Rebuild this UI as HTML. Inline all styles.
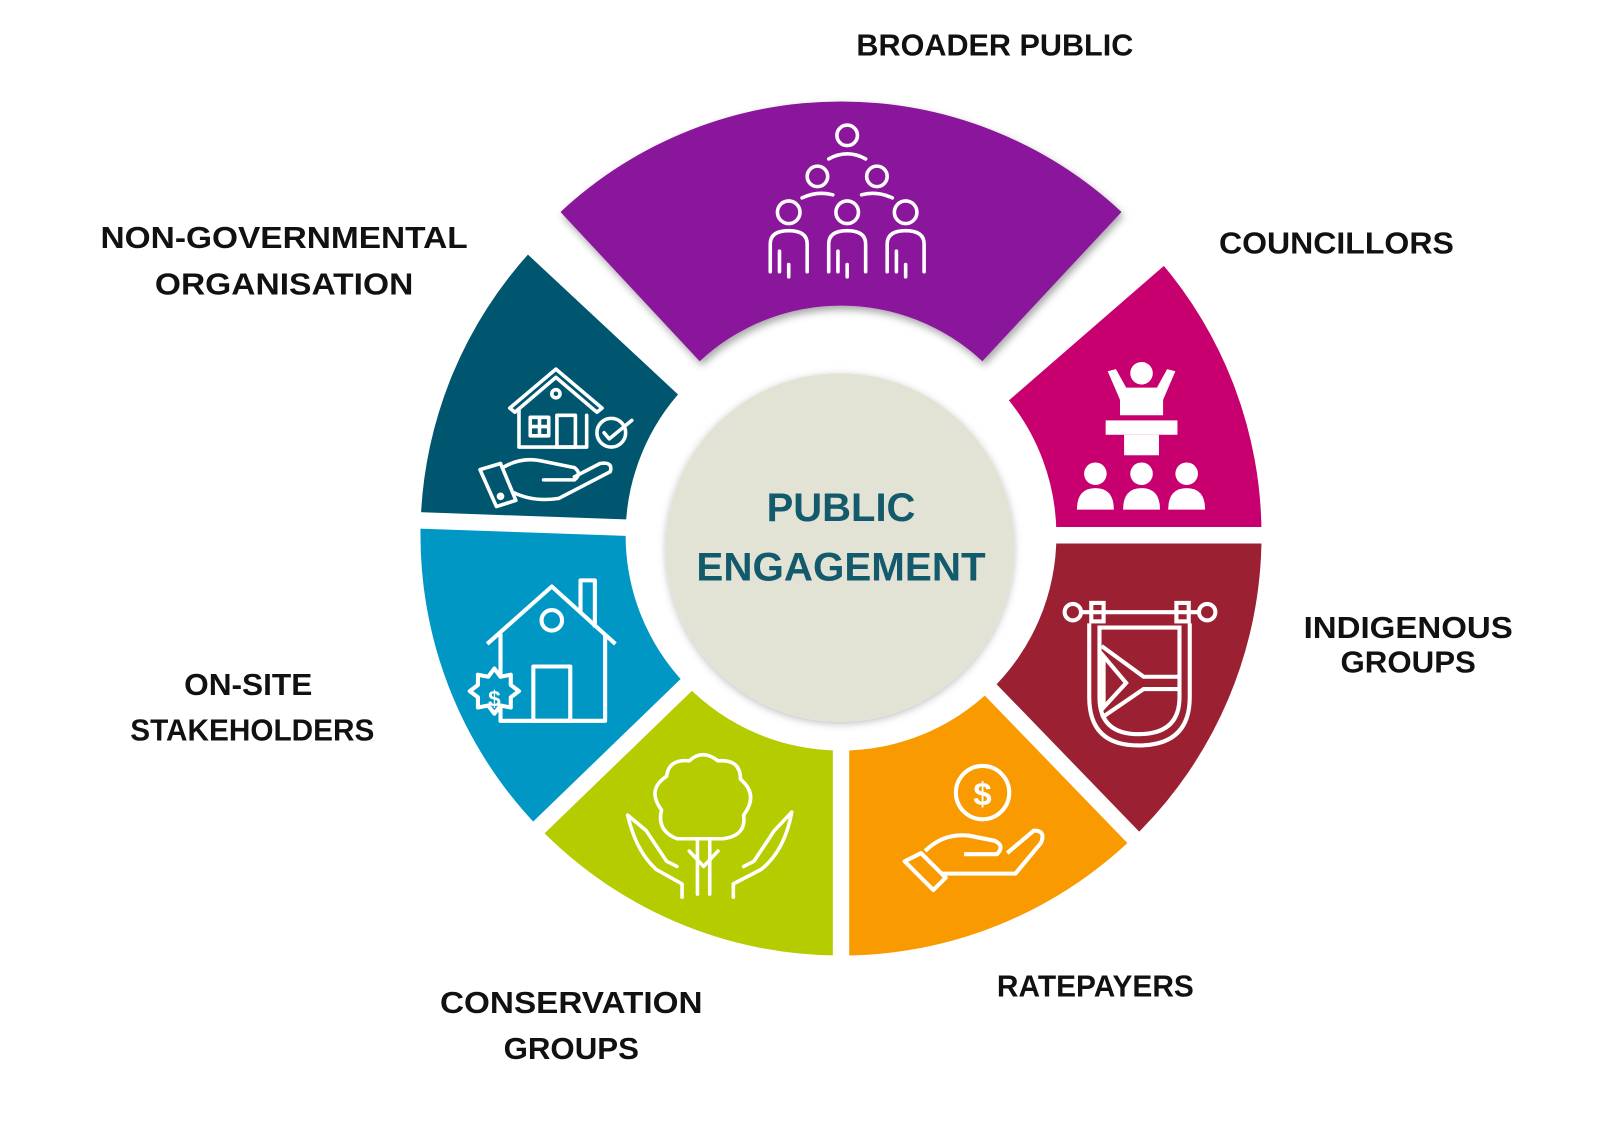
<!DOCTYPE html>
<html><head><meta charset="utf-8"><style>
html,body{margin:0;padding:0;background:#fff;}
svg{display:block}
text{font-family:"Liberation Sans",sans-serif;font-weight:bold;}
</style></head><body>
<svg width="1600" height="1131" viewBox="0 0 1560 1103" preserveAspectRatio="none" xmlns="http://www.w3.org/2000/svg">
<defs>
<filter id="sh" x="-20%" y="-20%" width="140%" height="140%"><feDropShadow dx="2" dy="4" stdDeviation="4" flood-color="#000" flood-opacity="0.35"/></filter>
<filter id="sh2" x="-20%" y="-20%" width="140%" height="140%"><feDropShadow dx="0" dy="2" stdDeviation="4" flood-color="#000" flood-opacity="0.25"/></filter>
</defs>
<rect width="1560" height="1103" fill="#fff"/>
<g>
<path d="M1129.4,253 A410,410 0 0 1 1230,522 L1030,522 A210,210 0 0 0 978.5,384.2 Z" fill="#c8006f"/>
<path d="M1230,522 A410,410 0 0 1 1104.8,816.9 L965.9,673.1 A210,210 0 0 0 1030,522 Z" fill="#9b2132"/>
<path d="M1104.8,816.9 A410,410 0 0 1 820,932 L820,732 A210,210 0 0 0 965.9,673.1 Z" fill="#f89a00"/>
<path d="M820,932 A410,410 0 0 1 525.1,806.8 L668.9,667.9 A210,210 0 0 0 820,732 Z" fill="#b5cc00"/>
<path d="M525.1,806.8 A410,410 0 0 1 410.2,507.7 L610.1,514.7 A210,210 0 0 0 668.9,667.9 Z" fill="#0097c4"/>
<path d="M410.2,507.7 A410,410 0 0 1 520.1,242.4 L666.4,378.8 A210,210 0 0 0 610.1,514.7 Z" fill="#00566e"/>
</g>
<g stroke="#fff" stroke-width="16">
<line x1="820" y1="522" x2="1146" y2="239"/>
<line x1="820" y1="522" x2="1245" y2="522"/>
<line x1="820" y1="522" x2="1116" y2="828"/>
<line x1="820" y1="522" x2="820" y2="947"/>
<line x1="820" y1="522" x2="514" y2="818"/>
<line x1="820" y1="522" x2="395" y2="507"/>
<line x1="820" y1="522" x2="509" y2="232"/>
</g>
<path d="M546.5,206.7 A401,401 0 0 1 1093.5,206.7 L957.8,352.3 A202,202 0 0 0 682.2,352.3 Z" fill="#8a189b" filter="url(#sh)"/>
<circle cx="819" cy="534" r="170" fill="#e3e3d5" filter="url(#sh2)"/>
<text x="820" y="508" font-size="39" fill="#135a6c" text-anchor="middle">PUBLIC</text>
<text x="820" y="566" font-size="39" fill="#135a6c" text-anchor="middle" textLength="282" lengthAdjust="spacingAndGlyphs">ENGAGEMENT</text>

<g font-size="30" fill="#111" text-anchor="middle">
<text x="970" y="54" textLength="270" lengthAdjust="spacingAndGlyphs">BROADER PUBLIC</text>
<text x="1303" y="247" textLength="229" lengthAdjust="spacingAndGlyphs">COUNCILLORS</text>
<text x="277" y="242" textLength="358" lengthAdjust="spacingAndGlyphs">NON-GOVERNMENTAL</text>
<text x="277" y="287" textLength="252" lengthAdjust="spacingAndGlyphs">ORGANISATION</text>
<text x="1373" y="622" textLength="204" lengthAdjust="spacingAndGlyphs">INDIGENOUS</text>
<text x="1373" y="656" textLength="132" lengthAdjust="spacingAndGlyphs">GROUPS</text>
<text x="242" y="678" textLength="125" lengthAdjust="spacingAndGlyphs">ON-SITE</text>
<text x="246" y="722" textLength="238" lengthAdjust="spacingAndGlyphs">STAKEHOLDERS</text>
<text x="557" y="988" textLength="256" lengthAdjust="spacingAndGlyphs">CONSERVATION</text>
<text x="557" y="1033" textLength="132" lengthAdjust="spacingAndGlyphs">GROUPS</text>
<text x="1068" y="972" textLength="192" lengthAdjust="spacingAndGlyphs">RATEPAYERS</text>
</g>

<g fill="none" stroke="#fff" stroke-width="3.5" stroke-linecap="round">
<circle cx="826" cy="132" r="10"/>
<path d="M808,155 Q826,145 844,155"/>
<circle cx="797" cy="172" r="10"/><circle cx="855" cy="172" r="10"/>
<path d="M782,193 Q797,186 812,190 M840,190 Q855,186 870,193"/>
<circle cx="769" cy="207" r="11"/><circle cx="826" cy="207" r="11"/><circle cx="883" cy="207" r="11"/>
<path d="M751,265 V238 Q751,225 769,225 Q787,225 787,238 V265 M760,245 V265 M769,258 V270"/>
<path d="M808,265 V238 Q808,225 826,225 Q844,225 844,238 V265 M817,245 V265 M826,258 V270"/>
<path d="M865,265 V238 Q865,225 883,225 Q901,225 901,238 V265 M874,245 V265 M883,258 V270"/>
</g>
<g fill="#fff">
<circle cx="1113" cy="364" r="11"/>
<path d="M1080,362 L1088,360 L1098,378 L1128,378 L1138,360 L1146,362 L1134,390 V405 H1092 V390 Z"/>
<rect x="1078" y="410" width="70" height="14"/>
<rect x="1096" y="424" width="34" height="20"/>
<circle cx="1068" cy="462" r="11"/><circle cx="1113" cy="462" r="11"/><circle cx="1157" cy="462" r="11"/>
<path d="M1050,497 Q1050,476 1068,476 Q1086,476 1086,497 Z M1095,497 Q1095,476 1113,476 Q1131,476 1131,497 Z M1139,497 Q1139,476 1157,476 Q1175,476 1175,497 Z"/>
</g>
<g fill="none" stroke="#fff" stroke-width="4">
<circle cx="1046" cy="597" r="8"/><circle cx="1177" cy="597" r="8"/>
<path d="M1054,597 H1169"/>
<rect x="1064" y="588" width="12" height="18"/><rect x="1147" y="588" width="12" height="18"/>
<path d="M1062,608 V680 Q1062,727 1110,727 Q1160,727 1160,680 V608"/>
<path d="M1072,612 V680 Q1072,716 1110,716 Q1150,716 1150,680 V612 Z"/>
<path d="M1074,630 L1115,660 H1150 M1074,700 L1115,672 H1150 M1076,640 L1098,666 L1076,690 Z"/>
</g>
<g fill="none" stroke="#fff" stroke-width="4" stroke-linejoin="round">
<circle cx="958" cy="773" r="26"/>
<text x="958" y="785" font-size="32" fill="#fff" stroke="none" text-anchor="middle">$</text>
<path d="M882,840 L910,868 L922,856 L898,832 Z"/>
<path d="M902,830 Q920,812 945,815 L970,820 Q980,825 972,833 L940,833 M918,852 L990,852 L1015,822 Q1020,810 1008,810 L982,832"/>
</g>
<g fill="none" stroke="#fff" stroke-width="3.5" stroke-linejoin="round" stroke-linecap="round">
<path d="M660,818 Q640,810 645,790 Q630,770 650,757 Q652,740 672,742 Q685,730 700,742 Q722,740 722,760 Q740,775 725,795 Q728,815 705,818 Z"/>
<path d="M680,818 V872 M692,818 V872 M672,830 L686,845 L700,830"/>
<path d="M612,795 Q620,830 640,848 L665,862 V875 M612,795 L630,810 L650,840 L660,845"/>
<path d="M772,792 Q765,830 742,848 L715,862 V875 M772,792 L755,810 L735,840 L725,845"/>
</g>
<g fill="none" stroke="#fff" stroke-width="4" stroke-linejoin="round">
<path d="M475,628 L538,572 L600,628 M488,618 V703 H590 V618"/>
<path d="M566,598 V566 H580 V612"/>
<circle cx="538" cy="605" r="10"/>
<rect x="520" y="650" width="36" height="53"/>
<path d="M482,652 l6,8 l10,-2 l0,10 l8,6 l-8,6 l0,10 l-10,-2 l-6,8 l-6,-8 l-10,2 l0,-10 l-8,-6 l8,-6 l0,-10 l10,2 Z" fill="#0097c4"/>
<text x="482" y="689" font-size="22" fill="#fff" stroke="none" text-anchor="middle">$</text>
</g>
<g fill="none" stroke="#fff" stroke-width="3.5" stroke-linejoin="round" stroke-linecap="round">
<path d="M497,398 L542,360 L587,398 L582,402 L542,368 L502,402 Z"/>
<path d="M506,400 V436 H572 V405"/>
<circle cx="542" cy="384" r="4"/>
<rect x="517" y="407" width="18" height="18"/><path d="M526,407 V425 M517,416 H535"/>
<rect x="543" y="405" width="18" height="31"/>
<circle cx="596" cy="422" r="14"/><path d="M589,422 L594,428 L616,410"/>
<path d="M468,458 L488,452 L503,488 L484,494 Z"/>
<circle cx="488" cy="484" r="2"/>
<path d="M492,455 Q510,445 530,450 L560,456 Q568,462 560,468 L530,468 M500,480 Q520,490 545,486 L595,460 Q598,450 585,452 L560,465"/>
</g>
</svg>
</body></html>
